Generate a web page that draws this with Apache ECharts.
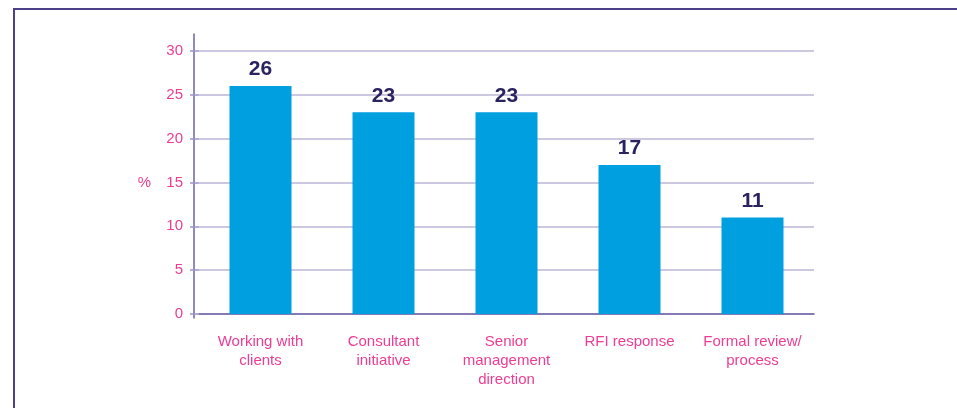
<!DOCTYPE html>
<html>
<head>
<meta charset="utf-8">
<script src="https://cdn.jsdelivr.net/npm/echarts@6/dist/echarts.min.js"></script>
<style>
  html, body { margin: 0; padding: 0; background: #fff; }
  #chart { width: 957px; height: 408px; }
</style>
</head>
<body>
<div id="chart"></div>
<script>
var categories = ['Working with\nclients', 'Consultant\ninitiative', 'Senior\nmanagement\ndirection', 'RFI response', 'Formal review/\nprocess'];
var values = [26, 23, 23, 17, 11];
var yTicks = [0, 5, 10, 15, 20, 25, 30];

var pink = '#ec3d93';
var navy = '#2a2360';
var gridCol = '#bdb5d6';
var axisCol = '#6d60a8';

var myChart = echarts.init(document.getElementById('chart'));
var option = {
    animation: false,
    textStyle: { fontFamily: 'Liberation Sans, Arial, sans-serif' },
    graphic: [{
        type: 'polyline',
        shape: { points: [[14, 408], [14, 9], [957, 9]] },
        style: { stroke: '#4c3f8c', lineWidth: 2, fill: null }
    }],
    grid: [
        { left: 199, right: 143, top: 51, bottom: 94 },
        { left: 194, width: 100, top: 34, bottom: 90 }
    ],
    xAxis: [{
        type: 'category',
        gridIndex: 0,
        data: categories,
        axisLine: { lineStyle: { color: axisCol, width: 1.5 } },
        axisTick: { show: false },
        axisLabel: { color: pink, fontSize: 15, lineHeight: 19, margin: 18, interval: 0 }
    }, {
        type: 'value',
        gridIndex: 1,
        show: false
    }],
    yAxis: [{
        type: 'value',
        gridIndex: 0,
        min: yTicks[0],
        max: yTicks[yTicks.length - 1],
        interval: 5,
        name: '%',
        nameLocation: 'middle',
        nameRotate: 0,
        nameGap: 48,
        nameTextStyle: { color: pink, fontSize: 15 },
        axisLine: { show: false },
        axisTick: { show: true, length: 9, lineStyle: { color: '#9d93c4', width: 1.5 } },
        axisLabel: { color: pink, fontSize: 15, margin: 16 },
        splitLine: { lineStyle: { color: gridCol, width: 1.5 } }
    }, {
        type: 'value',
        gridIndex: 1,
        min: 0,
        max: 1,
        axisLine: { show: true, lineStyle: { color: axisCol, width: 1.5 } },
        axisTick: { show: false },
        axisLabel: { show: false },
        splitLine: { show: false }
    }],
    series: [{
        type: 'bar',
        xAxisIndex: 0,
        yAxisIndex: 0,
        data: values,
        barWidth: 62,
        itemStyle: { color: '#009fe0' },
        label: {
            show: true,
            position: 'top',
            distance: 6,
            color: navy,
            fontSize: 21,
            fontWeight: 'bold'
        }
    }]
};
option && myChart.setOption(option);
</script>
</body>
</html>
